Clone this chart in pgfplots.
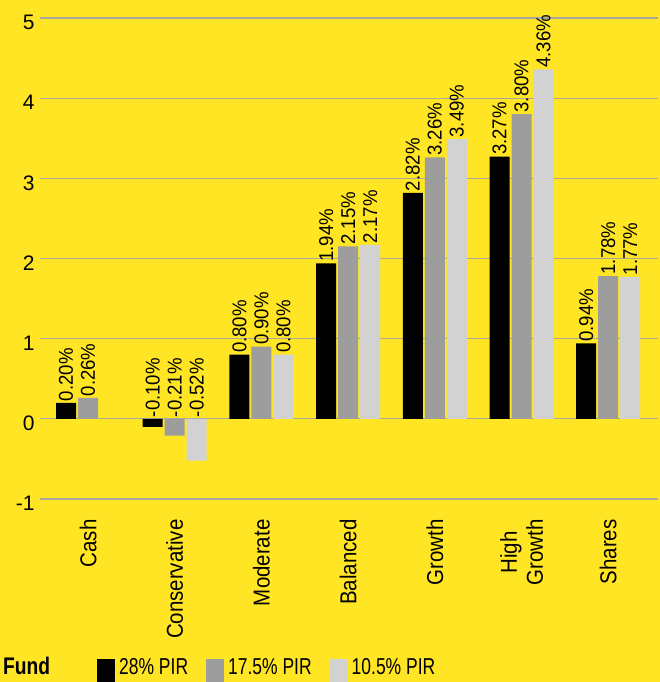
\documentclass[border=0pt]{standalone}
\usepackage{fontspec}
\setmainfont{Liberation Sans}
\newfontfamily\catfont[FakeStretch=0.89]{Liberation Sans}
\newfontfamily\barfont[FakeStretch=0.93]{Liberation Sans}
\newfontfamily\legfont[FakeStretch=0.76]{Liberation Sans}
\newfontfamily\fundfont[FakeStretch=0.80]{Liberation Sans Bold}
\usepackage{pgfplots}
\usepackage{pgfplotstable}
\pgfplotsset{compat=1.18}

\definecolor{bgyellow}{RGB}{255,229,36}
\definecolor{bargrey}{RGB}{157,157,157}
\definecolor{barlight}{RGB}{210,210,210}
\definecolor{gridgrey}{RGB}{168,168,160}

% returns by fund, 28% PIR / 17.5% PIR / 10.5% PIR
\pgfplotstableread{
x y lab
0 0.20 0.20
1 -0.10 -0.10
2 0.80 0.80
3 1.94 1.94
4 2.82 2.82
5 3.27 3.27
6 0.94 0.94
}\pirA
\pgfplotstableread{
x y lab
0 0.26 0.26
1 -0.21 -0.21
2 0.90 0.90
3 2.15 2.15
4 3.26 3.26
5 3.80 3.80
6 1.78 1.78
}\pirB
\pgfplotstableread{
x y lab
1 -0.52 -0.52
2 0.80 0.80
3 2.17 2.17
4 3.49 3.49
5 4.36 4.36
6 1.77 1.77
}\pirC

\pgfplotsset{
  sq legend/.style={legend image code/.code={
    \fill[##1] (0pt,-18pt) rectangle (18pt,8pt);
    \path (22pt,0pt);}},
}

\begin{document}
\begin{tikzpicture}
\path[use as bounding box, fill=bgyellow] (0pt,0pt) rectangle (660pt,682pt);
\begin{axis}[
  at={(40pt,183pt)}, anchor=south west,
  scale only axis, width=618pt, height=481pt,
  xmin=-0.554, xmax=6.574,
  ymin=-1, ymax=5,
  ybar, bar width=20pt,
  axis line style={draw=none},
  major tick length=0pt,
  ytick={-1,0,...,5},
  ymajorgrids,
  grid style={gridgrey, line width=1.2pt},
  xtick={0,...,6},
  xticklabels={Cash,Conservative,Moderate,Balanced,Growth,{High\\Growth},Shares},
  xticklabel style={yshift=-17pt, rotate=90, anchor=east, align=center,
    font=\catfont\fontsize{23}{26}\selectfont},
  yticklabel style={font=\fontsize{21}{24}\selectfont, yshift=-4.5pt, xshift=-2pt},
  /pgf/number format/assume math mode=true,
  clip=false,
  point meta=explicit symbolic,
  nodes near coords={\pgfplotspointmeta\%},
  visualization depends on={\thisrow{y} \as \rawy},
  nodes near coords style={yshift={max(0,-\rawy)*80.1667}, rotate=90,
    anchor=west, inner sep=1.5pt, text=black,
    font=\barfont\fontsize{20}{24}\selectfont},
  legend columns=4,
  legend cell align=left,
  legend style={at={(axis description cs:-0.0599,-0.3867)}, anchor=south west,
    draw=none, fill=none, inner sep=0pt,
    nodes={inner sep=0pt},
    font=\legfont\fontsize{23}{26}\selectfont,
    /tikz/every even column/.append style={column sep=18pt}},
]
\addlegendimage{empty legend}
\addlegendentry{\makebox[76pt][l]{\fundfont\fontsize{24}{26}\selectfont Fund}}

\addplot[fill=black, draw=none, bar shift=-22pt, sq legend]
  table[x=x, y=y, meta=lab] {\pirA};
\addlegendentry{28\% PIR}

\addplot[fill=bargrey, draw=none, bar shift=0pt, sq legend]
  table[x=x, y=y, meta=lab] {\pirB};
\addlegendentry{17.5\% PIR}

\addplot[fill=barlight, draw=none, bar shift=22pt, sq legend]
  table[x=x, y=y, meta=lab] {\pirC};
\addlegendentry{10.5\% PIR}

\end{axis}
\end{tikzpicture}
\end{document}
